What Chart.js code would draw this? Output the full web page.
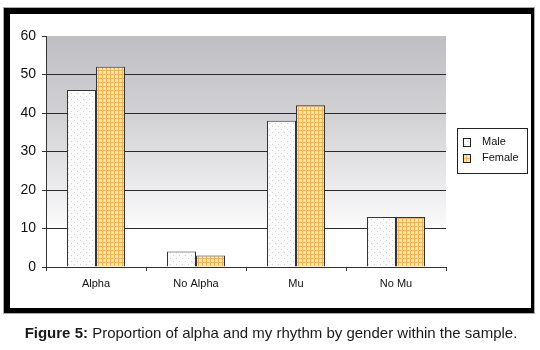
<!DOCTYPE html>
<html>
<head>
<meta charset="utf-8">
<script src="https://cdn.jsdelivr.net/npm/chart.js@4"></script>
<style>
    html, body { margin: 0; padding: 0; background: #fff; }
    body { width: 540px; height: 350px; position: relative; overflow: hidden; font-family: Arial, "Liberation Sans", sans-serif; }
    #frame {
        position: absolute; left: 4px; top: 8px;
        width: 521px; height: 294px;
        border-style: solid; border-color: #000;
        border-width: 6px 3px 5px 6px;
        outline: 1px solid #aaa;
        background: #fff;
    }
    #frame canvas { display: block; }
    #caption {
        position: absolute; left: 0; width: 542px; top: 324px;
        text-align: center; font-size: 15px; color: #1a1a1a;
    }
</style>
</head>
<body>
<div id="frame"><canvas id="chart" width="521" height="294"></canvas></div>
<div id="caption"><b>Figure 5:</b> Proportion of alpha and my rhythm by gender within the sample.</div>
<script>
// ================= DATA =================
const categories = ['Alpha', 'No Alpha', 'Mu', 'No Mu'];
const maleValues = [46, 4, 38, 13];
const femaleValues = [52, 3, 42, 13];
const seriesLabels = ['Male', 'Female'];
const yTicks = [0, 10, 20, 30, 40, 50, 60];

// ================= PATTERNS =================
function dotPattern() {
    const c = document.createElement('canvas');
    c.width = 6; c.height = 6;
    const g = c.getContext('2d');
    g.fillStyle = '#fbfbfb';
    g.fillRect(0, 0, 6, 6);
    g.fillStyle = '#cfcfcf';
    g.fillRect(1, 1, 1, 1);
    g.fillRect(4, 4, 1, 1);
    return g.createPattern(c, 'repeat');
}

function checkPattern() {
    const c = document.createElement('canvas');
    c.width = 4; c.height = 4;
    const g = c.getContext('2d');
    g.fillStyle = '#fce6b0';
    g.fillRect(0, 0, 4, 4);
    g.fillStyle = '#eeb455';
    g.fillRect(0, 0, 4, 1);
    g.fillRect(0, 0, 1, 4);
    return g.createPattern(c, 'repeat');
}

const malePat = dotPattern();
const femalePat = checkPattern();

// ================= PLUGINS =================
const plotBackground = {
    id: 'plotBackground',
    beforeDraw(chart) {
        const { ctx, chartArea: a } = chart;
        const grad = ctx.createLinearGradient(0, a.top, 0, a.bottom);
        grad.addColorStop(0, '#bfbfc3');
        grad.addColorStop(0.35, '#d2d2d5');
        grad.addColorStop(0.6, '#e7e7e9');
        grad.addColorStop(0.8, '#f8f8f9');
        grad.addColorStop(0.84, '#ffffff');
        grad.addColorStop(1, '#ffffff');
        ctx.save();
        ctx.fillStyle = grad;
        ctx.fillRect(a.left, a.top, a.right - a.left, a.bottom - a.top);
        ctx.restore();
    }
};

// legend box drawn by hand (bordered, to the right of the plot)
const boxLegend = {
    id: 'boxLegend',
    afterDraw(chart) {
        const ctx = chart.ctx;
        const x = 447, y = 114, w = 70, h = 45;
        ctx.save();
        ctx.fillStyle = '#fff';
        ctx.fillRect(x, y, w, h);
        ctx.strokeStyle = '#222';
        ctx.lineWidth = 1;
        ctx.strokeRect(x + 0.5, y + 0.5, w, h);
        ctx.font = '11px Arial, "Liberation Sans", sans-serif';
        ctx.textBaseline = 'middle';
        chart.data.datasets.forEach((ds, i) => {
            const cy = y + 14 + i * 16;
            ctx.fillStyle = ds.backgroundColor;
            ctx.fillRect(x + 6, cy - 4, 7, 8);
            ctx.strokeStyle = '#222';
            ctx.strokeRect(x + 6.5, cy - 3.5, 7, 8);
            ctx.fillStyle = '#111';
            ctx.fillText(ds.label, x + 25, cy);
        });
        ctx.restore();
    }
};

// ================= CHART =================
new Chart(document.getElementById('chart').getContext('2d'), {
    type: 'bar',
    data: {
        labels: categories,
        datasets: [{
            label: seriesLabels[0],
            data: maleValues,
            backgroundColor: malePat,
            borderColor: '#333',
            borderWidth: 1
        }, {
            label: seriesLabels[1],
            data: femaleValues,
            backgroundColor: femalePat,
            borderColor: '#333',
            borderWidth: 1
        }]
    },
    options: {
        responsive: false,
        animation: false,
        layout: { padding: { left: 0, right: 85, top: 22, bottom: 11 } },
        plugins: {
            legend: { display: false },
            tooltip: { enabled: false }
        },
        datasets: {
            bar: { categoryPercentage: 0.58, barPercentage: 1 }
        },
        scales: {
            x: {
                afterFit: s => { s.height = 30; },
                grid: {
                    drawOnChartArea: false,
                    drawTicks: true,
                    tickLength: 4,
                    color: '#333',
                    tickColor: '#333',
                    offset: true
                },
                border: { display: true, color: '#333', width: 1 },
                ticks: {
                    color: '#111',
                    padding: 6,
                    font: { family: 'Arial, "Liberation Sans", sans-serif', size: 11 }
                }
            },
            y: {
                min: 0,
                max: 60,
                afterFit: s => { s.width = 36; },
                afterBuildTicks: s => { s.ticks = yTicks.map(v => ({ value: v })); },
                grid: {
                    color: c => (c.tick && c.tick.value === 60) ? 'rgba(0,0,0,0)' : '#2a2a2a',
                    tickColor: '#333',
                    tickLength: 4,
                    lineWidth: 1
                },
                border: { display: true, color: '#333', width: 1 },
                ticks: {
                    color: '#111',
                    padding: 6,
                    font: { family: 'Arial, "Liberation Sans", sans-serif', size: 14 }
                }
            }
        }
    },
    plugins: [plotBackground, boxLegend]
});
</script>
</body>
</html>
